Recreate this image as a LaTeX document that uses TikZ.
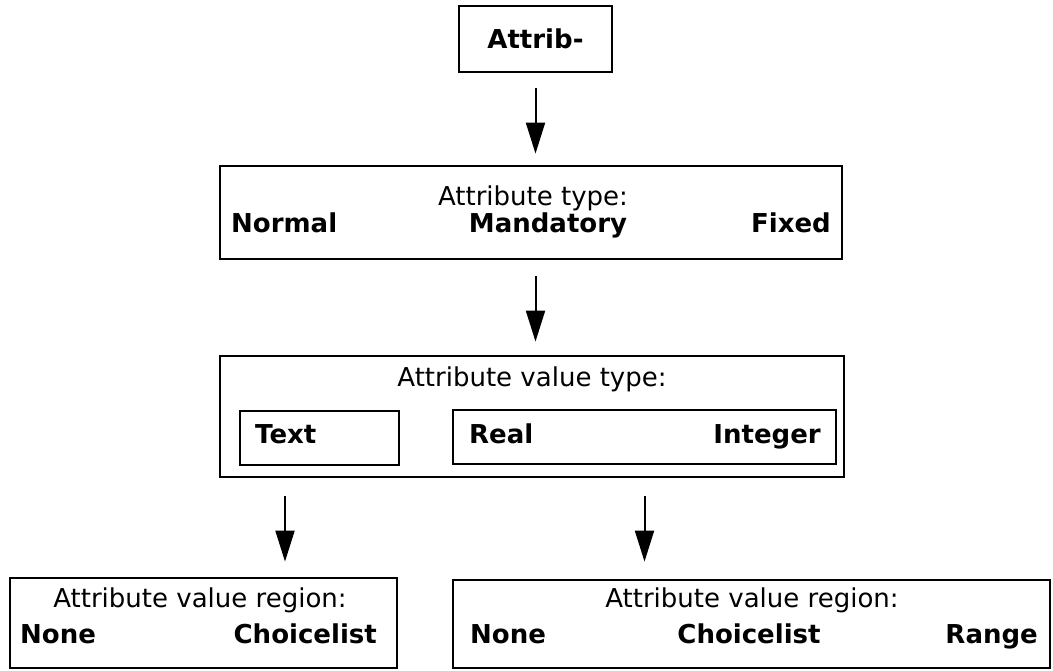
\documentclass[tikz,border=0pt]{standalone}
\usepackage{fontspec}
\setmainfont{DejaVu Sans}
\usetikzlibrary{arrows.meta}
\begin{document}
\begin{tikzpicture}[x=1pt,y=-1pt,
  box/.style={draw, line width=2.8pt, inner sep=0pt},
  lbl/.style={inner sep=0pt, font=\fontsize{26}{30}\selectfont},
  blbl/.style={inner sep=0pt, font=\fontsize{26}{30}\selectfont\bfseries},
  flow/.style={line width=2pt, -{Triangle[length=31pt,width=19pt]}}]
\useasboundingbox (0,0) rectangle (1053,670);

% boxes
\node[box, minimum width=153pt, minimum height=66pt] (b1) at (535.5,39) {};
\node[box, minimum width=622pt, minimum height=93pt] (b2) at (531,212.5) {};
\node[box, minimum width=624pt, minimum height=121pt] (b3) at (532,416.5) {};
\node[box, minimum width=159pt, minimum height=54pt] (tb) at (319.5,438) {};
\node[box, minimum width=383pt, minimum height=54pt] (rb) at (644.5,437) {};
\node[box, minimum width=387pt, minimum height=90pt] (b4) at (203.5,623) {};
\node[box, minimum width=597pt, minimum height=88pt] (b5) at (751.5,624) {};

% texts
\node[blbl] (t1) at (b1.center) {Attrib-};
\node[lbl, anchor=base] (t2) at (533,205) {Attribute type:};
\node[blbl, anchor=base west] (t2a) at (231,232) {Normal};
\node[blbl, anchor=base] (t2b) at (548,232) {Mandatory};
\node[blbl, anchor=base east] (t2c) at (831,232) {Fixed};
\node[lbl, anchor=base] (t3) at (532,386) {Attribute value type:};
\node[blbl, anchor=base west] (t3a) at (255,443) {Text};
\node[blbl, anchor=base west] (t3b) at (469,443) {Real};
\node[blbl, anchor=base east] (t3c) at (821,443) {Integer};
\node[lbl, anchor=base] (t4) at (200,607) {Attribute value region:};
\node[blbl, anchor=base west] (t4a) at (20,643) {None};
\node[blbl, anchor=base east] (t4b) at (377,643) {Choicelist};
\node[lbl, anchor=base] (t5) at (752,607) {Attribute value region:};
\node[blbl, anchor=base west] (t5a) at (470,643) {None};
\node[blbl, anchor=base] (t5b) at (749,643) {Choicelist};
\node[blbl, anchor=base east] (t5c) at (1038,643) {Range};

% connectors
\coordinate (lx) at (285,0);
\draw[flow, shorten <=15pt, shorten >=11pt] (b1.south) -- (b2.north -| b1.south);
\draw[flow, shorten <=16pt, shorten >=13pt] (b2.south -| b1.south) -- (b3.north -| b1.south);
\draw[flow, shorten <=18pt, shorten >=15pt] (b3.south -| lx) -- (b4.north -| lx);
\draw[flow, shorten <=18pt, shorten >=17pt] (b3.south -| rb.south) -- (b5.north -| rb.south);
\end{tikzpicture}
\end{document}
